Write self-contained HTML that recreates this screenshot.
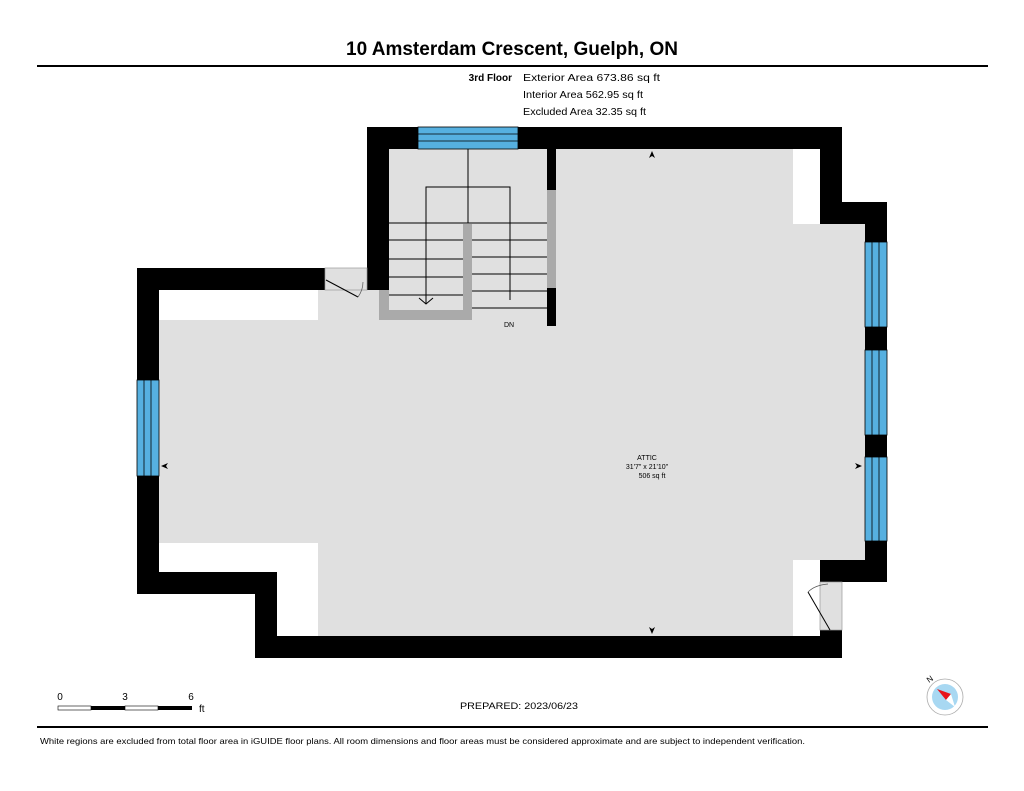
<!DOCTYPE html>
<html><head><meta charset="utf-8"><style>
html,body{margin:0;padding:0;background:#fff}
svg{display:block;font-family:"Liberation Sans",Arial,sans-serif}
</style></head><body>
<svg width="1024" height="791" viewBox="0 0 1024 791" xmlns="http://www.w3.org/2000/svg">
<text x="512" y="55" text-anchor="middle" font-size="19" font-weight="bold">10 Amsterdam Crescent, Guelph, ON</text>
<rect x="37" y="65" width="951" height="2" fill="#000"/>
<text x="512" y="81" text-anchor="end" font-size="10" font-weight="bold">3rd Floor</text>
<text x="523" y="81" font-size="10.5" textLength="137" lengthAdjust="spacingAndGlyphs">Exterior Area 673.86 sq ft</text>
<text x="523" y="98" font-size="10.5" textLength="120" lengthAdjust="spacingAndGlyphs">Interior Area 562.95 sq ft</text>
<text x="523" y="115" font-size="10.5" textLength="123" lengthAdjust="spacingAndGlyphs">Excluded Area 32.35 sq ft</text>

<g fill="#000">
<rect x="367" y="127" width="475" height="22"/>
<rect x="367" y="127" width="22" height="163"/>
<rect x="820" y="127" width="22" height="97"/>
<rect x="820" y="202" width="67" height="22"/>
<rect x="865" y="202" width="22" height="380"/>
<rect x="820" y="560" width="67" height="22"/>
<rect x="820" y="630" width="22" height="28"/>
<rect x="255" y="636" width="587" height="22"/>
<rect x="255" y="572" width="22" height="86"/>
<rect x="137" y="572" width="140" height="22"/>
<rect x="137" y="268" width="22" height="326"/>
<rect x="137" y="268" width="188" height="22"/>
</g>
<polygon fill="#e0e0e0" points="389,149 820,149 820,224 865,224 865,560 820,560 820,636 277,636 277,572 159,572 159,290 389,290"/>
<g fill="#fff">
<rect x="159" y="290" width="159" height="30"/>
<polygon points="159,543 318,543 318,636 277,636 277,572 159,572"/>
<rect x="793" y="149" width="27" height="75"/>
<rect x="793" y="560" width="27" height="76"/>
</g>
<rect x="325" y="268" width="42" height="22" fill="#e0e0e0" stroke="#999" stroke-width="0.7"/>
<line x1="326" y1="280" x2="358" y2="297" stroke="#000" stroke-width="1"/>
<path d="M358,297 Q363,290 363,282" fill="none" stroke="#555" stroke-width="0.7"/>
<rect x="820" y="582" width="22" height="48" fill="#e0e0e0" stroke="#999" stroke-width="0.7"/>
<line x1="808" y1="592" x2="830" y2="630" stroke="#000" stroke-width="1"/>
<path d="M808,592 Q815,585 828,584" fill="none" stroke="#555" stroke-width="0.7"/>

<g fill="#56b0e0" stroke="#000" stroke-width="0.8">
<rect x="418" y="127" width="100" height="22"/>
<rect x="137" y="380" width="22" height="96"/>
<rect x="865" y="242" width="22" height="85"/>
<rect x="865" y="350" width="22" height="85"/>
<rect x="865" y="457" width="22" height="84"/>
</g>
<g stroke="#000" stroke-width="0.8">
<line x1="418" y1="134" x2="518" y2="134"/><line x1="418" y1="141" x2="518" y2="141"/>
<line x1="144" y1="380" x2="144" y2="476"/><line x1="151" y1="380" x2="151" y2="476"/>
<line x1="872" y1="242" x2="872" y2="327"/><line x1="879" y1="242" x2="879" y2="327"/>
<line x1="872" y1="350" x2="872" y2="435"/><line x1="879" y1="350" x2="879" y2="435"/>
<line x1="872" y1="457" x2="872" y2="541"/><line x1="879" y1="457" x2="879" y2="541"/>
</g>

<rect x="547" y="149" width="9" height="41" fill="#000"/>
<rect x="547" y="190" width="9" height="98" fill="#aaa"/>
<rect x="547" y="288" width="9" height="38" fill="#000"/>
<g stroke="#000" stroke-width="1" fill="none">
<line x1="389" y1="223" x2="547" y2="223"/>
<line x1="389" y1="240" x2="463" y2="240"/>
<line x1="389" y1="259" x2="463" y2="259"/>
<line x1="389" y1="277" x2="463" y2="277"/>
<line x1="389" y1="295" x2="463" y2="295"/>
<line x1="472" y1="240" x2="547" y2="240"/>
<line x1="472" y1="257" x2="547" y2="257"/>
<line x1="472" y1="274" x2="547" y2="274"/>
<line x1="472" y1="291" x2="547" y2="291"/>
<line x1="472" y1="308" x2="547" y2="308"/>
<line x1="468" y1="149" x2="468" y2="223"/>
<polyline points="426,304 426,187 510,187 510,300"/>
<polyline points="419,298 426,304 433,298"/>
</g>
<path d="M379,320 L379,290 L389,290 L389,310 L463,310 L463,224 L472,224 L472,320 Z" fill="#aaa"/>
<text x="504" y="327" font-size="7">DN</text>

<text x="647" y="460" text-anchor="middle" font-size="7">ATTIC</text>
<text x="647" y="469" text-anchor="middle" font-size="7">31'7" x 21'10"</text>
<text x="652" y="478" text-anchor="middle" font-size="7">506 sq ft</text>
<g fill="#000">
<polygon points="652,151 649,158 652,156 655,158"/>
<polygon points="652,634 649,627 652,629 655,627"/>
<polygon points="161,466 168,463 166,466 168,469"/>
<polygon points="862,466 855,463 857,466 855,469"/>
</g>

<text x="60" y="700" text-anchor="middle" font-size="10">0</text>
<text x="125" y="700" text-anchor="middle" font-size="10">3</text>
<text x="191" y="700" text-anchor="middle" font-size="10">6</text>
<text x="199" y="712" font-size="10">ft</text>
<rect x="58" y="706" width="33" height="4" fill="#fff" stroke="#000" stroke-width="0.6"/>
<rect x="91" y="706" width="34" height="4" fill="#000"/>
<rect x="125" y="706" width="33" height="4" fill="#fff" stroke="#000" stroke-width="0.6"/>
<rect x="158" y="706" width="34" height="4" fill="#000"/>

<text x="460" y="709" font-size="9" textLength="118" lengthAdjust="spacingAndGlyphs">PREPARED: 2023/06/23</text>

<circle cx="945" cy="697" r="18" fill="#fff" stroke="#aaa" stroke-width="0.8"/>
<circle cx="945" cy="697" r="13" fill="#a8d8f2"/>
<polygon points="937,689 951,694 946,700" fill="#e8141b"/>
<polygon points="946,700 951,694 955,707" fill="#fff"/>
<text x="929" y="683" font-size="8" transform="rotate(-35 929 683)">N</text>

<rect x="37" y="726" width="951" height="2" fill="#000"/>
<text x="40" y="744" font-size="8.5" textLength="765" lengthAdjust="spacingAndGlyphs">White regions are excluded from total floor area in iGUIDE floor plans. All room dimensions and floor areas must be considered approximate and are subject to independent verification.</text>
</svg>
</body></html>
